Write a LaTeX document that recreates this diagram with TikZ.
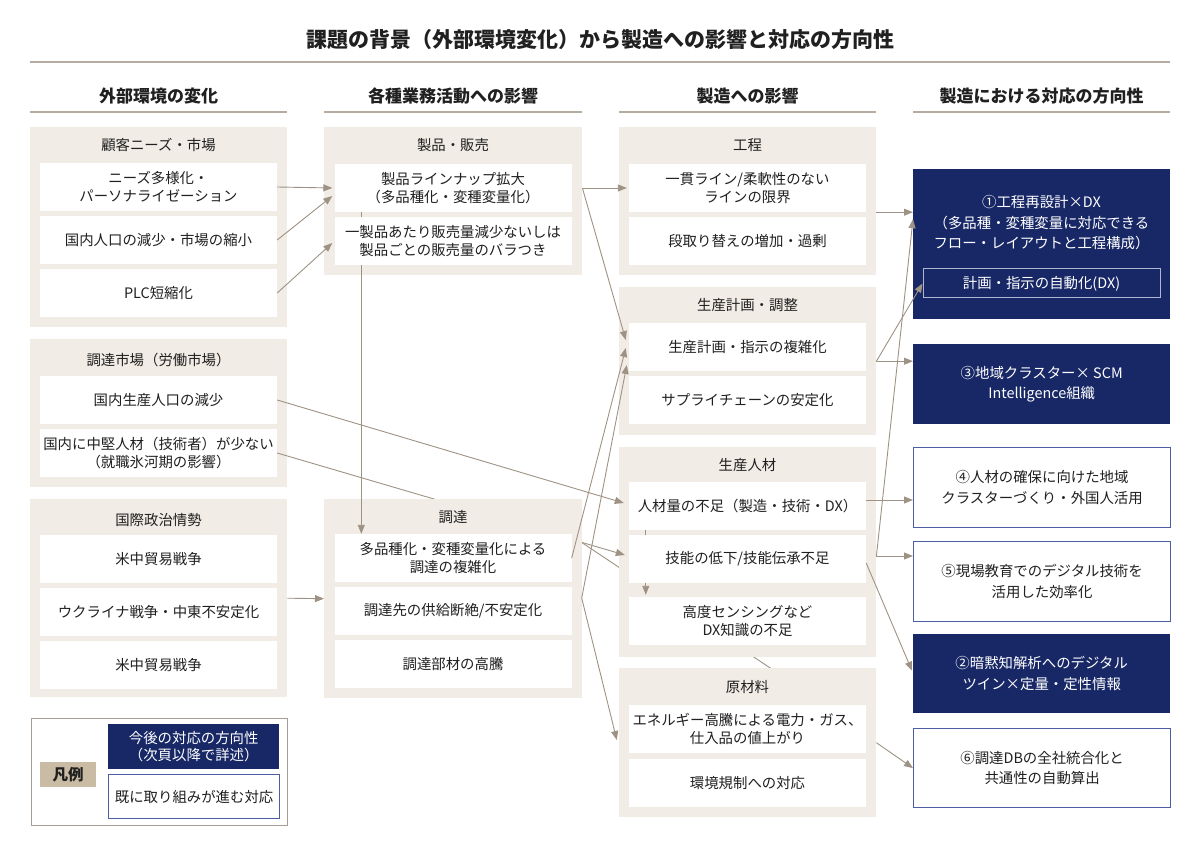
\documentclass[tikz,border=0pt]{standalone}
\usepackage{fontspec}
\setmainfont{Noto Sans CJK JP}
\usetikzlibrary{calc}
\usetikzlibrary{arrows.meta}
\definecolor{beige}{RGB}{241,236,229}
\definecolor{taupe}{RGB}{158,146,132}
\definecolor{rulecol}{RGB}{181,171,158}
\definecolor{navy}{RGB}{24,40,102}
\definecolor{framecol}{RGB}{78,94,165}
\definecolor{tancol}{RGB}{201,187,164}
\definecolor{legcol}{RGB}{168,158,148}
\definecolor{ink}{RGB}{32,32,32}
\pgfdeclarelayer{bottom}
\pgfdeclarelayer{cthree}
\pgfdeclarelayer{under}
\pgfdeclarelayer{ctwo}
\pgfdeclarelayer{over}
\pgfsetlayers{bottom,cthree,under,ctwo,over,main}

\begin{document}
\begin{tikzpicture}[x=1pt, y=-1pt, >={Triangle[length=9pt,width=7pt]},
  grp/.style={fill=beige, inner sep=0, anchor=north west, minimum width=257},
  gtitle/.style={text=ink, font=\fontsize{14.4}{17}\selectfont},
  box/.style={fill=white, inner sep=0, minimum width=237, minimum height=48, align=center, text=ink, font=\fontsize{14.4}{17.5}\selectfont},
  plan/.style={inner sep=0, anchor=north west, minimum width=257, align=center, font=\fontsize{14.4}{20.5}\selectfont},
  newbox/.style={plan, fill=navy, text=white},
  oldbox/.style={plan, fill=white, draw=framecol, line width=1.2pt, text=ink},
  conn/.style={draw=taupe, line width=0.9pt},
  hdr/.style={text=ink, font=\fontsize{17}{20}\selectfont\bfseries}]
\useasboundingbox (0,0) rectangle (1200,850);

% title and column headers
\node[text=ink, font=\fontsize{21}{25}\selectfont\bfseries] (title) at (600,40) {課題の背景（外部環境変化）から製造への影響と対応の方向性};
\draw[rulecol, line width=1.2pt] (30,62) -- (1170,62);
\foreach \x/\w/\t [count=\i] in {30/257/外部環境の変化, 324/258/各種業務活動への影響, 619/257/製造への影響, 913/257/製造における対応の方向性}{
  \node[hdr] (head\i) at (\x+\w/2,96) {\t};
  \draw[rulecol, line width=1.5pt] (\x,112) -- ++(\w,0);
}

% group backgrounds
\begin{pgfonlayer}{cthree}
\node[grp, minimum height=200] (gcust) at (30,127) {};
\node[grp, minimum height=148] (glab) at (30,339) {};
\node[grp, minimum height=198] (gpol) at (30,499) {};
\node[grp, minimum height=148] (gline) at (619,127) {};
\node[grp, minimum height=148] (gplan) at (619,287) {};
\node[grp, minimum height=210] (gman) at (619,447) {};
\node[grp, minimum height=149] (gmat) at (619,668) {};
\end{pgfonlayer}
\begin{pgfonlayer}{ctwo}
\node[grp, minimum width=258, minimum height=148] (gsale) at (324,127) {};
\node[grp, minimum width=258, minimum height=199] (gproc) at (324,499) {};
\end{pgfonlayer}

\node[gtitle] (tcust) at (158.5,145) {顧客ニーズ・市場};
\node[gtitle] (tlab) at (158.5,360) {調達市場（労働市場）};
\node[gtitle] (tpol) at (158.5,520) {国際政治情勢};
\node[gtitle] (tsale) at (453,145) {製品・販売};
\node[gtitle] (tproc) at (453,517) {調達};
\node[gtitle] (tline) at (747.5,145) {工程};
\node[gtitle] (tplan) at (747.5,305) {生産計画・調整};
\node[gtitle] (tman) at (747.5,465) {生産人材};
\node[gtitle] (tmat) at (747.5,687) {原材料};

% column 1
\node[box] (c1) at (158.5,187) {ニーズ多様化・\\パーソナライゼーション};
\node[box] (c2) at (158.5,240) {国内人口の減少・市場の縮小};
\node[box] (c3) at (158.5,293) {PLC短縮化};
\node[box] (l1) at (158.5,400) {国内生産人口の減少};
\node[box] (l2) at (158.5,453) {国内に中堅人材（技術者）が少ない\\（就職氷河期の影響）};
\node[box] (w1) at (158.5,559) {米中貿易戦争};
\node[box] (w2) at (158.5,612) {ウクライナ戦争・中東不安定化};
\node[box] (w3) at (158.5,665) {米中貿易戦争};

% column 2
\node[box] (s1) at (453,188) {製品ラインナップ拡大\\（多品種化・変種変量化）};
\node[box] (s2) at (453,241) {一製品あたり販売量減少ないしは\\製品ごとの販売量のバラつき};
\node[box] (p1) at (453,558) {多品種化・変種変量化による\\調達の複雑化};
\node[box] (p2) at (453,611) {調達先の供給断絶/不安定化};
\node[box] (p3) at (453,664) {調達部材の高騰};

% column 3
\node[box] (k1) at (747.5,188) {一貫ライン/柔軟性のない\\ラインの限界};
\node[box] (k2) at (747.5,241) {段取り替えの増加・過剰};
\node[box] (q1) at (747.5,347) {生産計画・指示の複雑化};
\node[box] (q2) at (747.5,400) {サプライチェーンの安定化};
\node[box] (h1) at (747.5,506) {人材量の不足（製造・技術・DX）};
\node[box] (h2) at (747.5,559) {技能の低下/技能伝承不足};
\node[box] (h3) at (747.5,621) {高度センシングなど\\DX知識の不足};
\node[box] (m1) at (747.5,729) {エネルギー高騰による電力・ガス、\\仕入品の値上がり};
\node[box] (m2) at (747.5,783) {環境規制への対応};

% column 4
\node[newbox, minimum height=150] (a1) at (913,169) {};
\node[text=white, align=center, font=\fontsize{14.4}{20.5}\selectfont] (a1t) at (1041.5,223) {①工程再設計×DX\\（多品種・変種変量に対応できる\\フロー・レイアウトと工程構成）};
\node[draw={rgb,255:red,176;green,182;blue,208}, line width=1pt, minimum width=237, minimum height=29, inner sep=0, text=white, font=\fontsize{14.4}{17}\selectfont] (a1i) at (1041.5,283.5) {計画・指示の自動化(DX)};
\node[newbox, minimum height=80] (a3) at (913,344) {③地域クラスター× SCM\\Intelligence組織};
\node[oldbox, minimum height=80] (a4) at (913,447) {④人材の確保に向けた地域\\クラスターづくり・外国人活用};
\node[oldbox, minimum height=80] (a5) at (913,541) {⑤現場教育でのデジタル技術を\\活用した効率化};
\node[newbox, minimum height=79] (a2) at (913,634) {②暗黙知解析へのデジタル\\ツイン×定量・定性情報};
\node[oldbox, minimum height=79] (a6) at (913,728) {⑥調達DBの全社統合化と\\共通性の自動算出};

% legend
\node[draw=legcol, line width=1pt, inner sep=0, anchor=north west, minimum width=256, minimum height=107] (leg) at (31,718) {};
\node[fill=tancol, inner sep=0, anchor=north west, minimum width=56, minimum height=25, text=ink, font=\fontsize{15.5}{18}\selectfont\bfseries] (key) at (40,762) {凡例};
\node[fill=navy, inner sep=0, anchor=north west, minimum width=171, minimum height=45, align=center, text=white, font=\fontsize{14.4}{17}\selectfont] (lnew) at (108,724) {今後の対応の方向性\\（次頁以降で詳述）};
\node[draw=framecol, line width=1.2pt, fill=white, inner sep=0, anchor=north west, minimum width=171, minimum height=44, text=ink, font=\fontsize{14.4}{17}\selectfont] (lold) at (108,774) {既に取り組みが進む対応};

% connectors behind the groups
\begin{pgfonlayer}{bottom}
\draw[conn] ($(p1.north east)+(0,2)$) -- ($(m1.north)+(78,0)$);
\end{pgfonlayer}
\begin{pgfonlayer}{under}
\draw[conn, ->] (l2.east) -- ($(h2.west)+(-4,-4)$);
\end{pgfonlayer}
\begin{pgfonlayer}{over}
\draw[conn, ->] ($(s1.south west)+(27,-10)$) -- ($(p1.north west)+(27,0)$);
\draw[conn, ->] ($(h1.south west)+(17,-10)$) -- ($(h3.north west)+(17,-2)$);
\end{pgfonlayer}

% connectors
\draw[conn, ->] (c1.east) -- ($(s1.west)+(-2,0)$);
\draw[conn, ->] (c2.east) -- ($(s1.west)+(-2,8)$);
\draw[conn, ->] (c3.east) -- ($(s2.west)+(-2,2)$);
\draw[conn, ->] (gpol.east) -- (gproc.west);
\coordinate (sout) at (gsale.east |- s1.east);
\draw[conn, ->] (sout) -- ($(k1.west)+(-2,0)$);
\draw[conn, ->] (sout) -- ($(q1.west)+(-3,-7)$);
\draw[conn, ->] (p1.east) -- ($(q1.west)+(-3,1)$);
\coordinate (pout) at ($(p2.east)+(10,-13)$);
\draw[conn, ->] (pout) -- ($(q1.west)+(-2,18)$);
\draw[conn, ->] (pout) -- ($(m1.west)+(-12,11)$);
\draw[conn, ->] (l1.east) -- ($(h1.west)+(-5,-3)$);
\coordinate (kout) at ($(gline.east)+(0,11)$);
\draw[conn, ->] (kout) -- (kout -| a1.west);
\draw[conn, ->] (gplan.east) -- (gplan.east -| a3.west);
\draw[conn, ->] (gplan.east) -- (a1i.west);
\coordinate (hout) at ($(h1.east)+(0,-6)$);
\draw[conn, ->] (hout) -- (hout -| a4.west);
\coordinate (sk0) at (gman.east |- h2.east);
\coordinate (sk) at ($(sk0)+(0,-3)$);
\draw[conn, ->] (sk) -- ($(a1.west)+(0,-25)$);
\draw[conn, ->] (sk) -- (sk -| a5.west);
\draw[conn, ->] ($(h2.east)+(0,4)$) -- ($(a2.west)+(-1,-3)$);
\draw[conn, ->] (gmat.east) -- (a6.west);
\end{tikzpicture}
\end{document}
